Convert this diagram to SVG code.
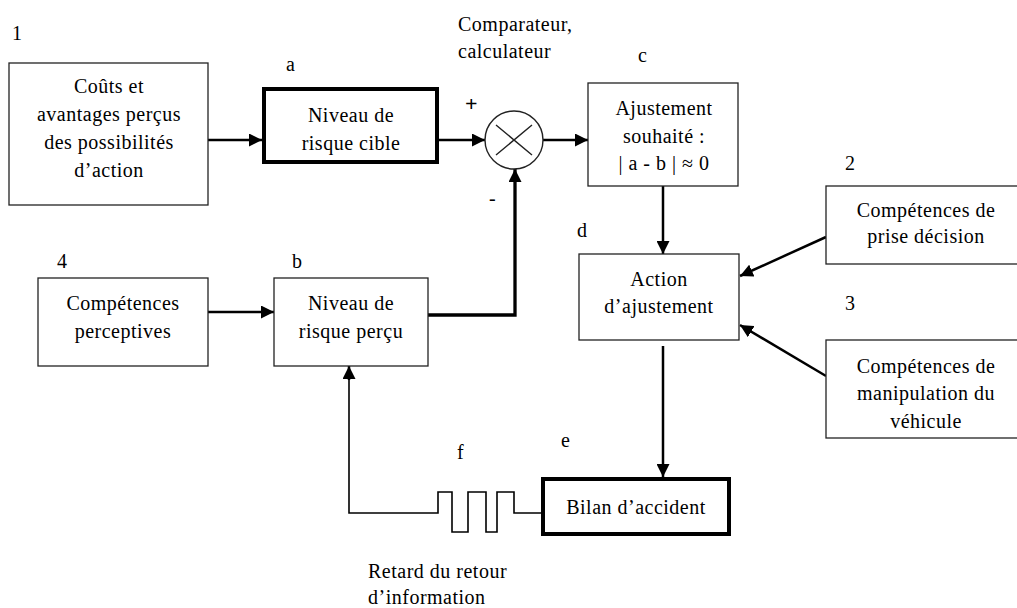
<svg xmlns="http://www.w3.org/2000/svg" width="1017" height="608" viewBox="0 0 1017 608">
<style>
text{font-family:'Liberation Serif','Tinos','Noto Serif','FreeSerif','Nimbus Roman','Times New Roman','Times','DejaVu Serif',serif;font-size:20px;fill:#000;letter-spacing:0.5px}
.c{text-anchor:middle}
.box{fill:#fff;stroke:#222;stroke-width:1.3}
.thick{fill:#fff;stroke:#000;stroke-width:4}
.ln{fill:none;stroke:#000;stroke-width:2.5}
.th{fill:none;stroke:#000;stroke-width:1.6}
</style>
<defs>
<marker id="ah" viewBox="0 0 13 13" refX="13" refY="6.5" markerWidth="13" markerHeight="13" markerUnits="userSpaceOnUse" orient="auto">
<path d="M0,0 L13,6.5 L0,13 z" fill="#000"/>
</marker>
</defs>
<rect width="1017" height="608" fill="#fff"/>

<g id="connectors">
<line class="ln" x1="208" y1="140" x2="262" y2="140" marker-end="url(#ah)"/>
<line class="ln" x1="439" y1="140" x2="485" y2="140" marker-end="url(#ah)"/>
<line class="ln" x1="543" y1="140" x2="588" y2="140" marker-end="url(#ah)"/>
<polyline class="ln" style="stroke-width:3.3" points="428,315 515,315 515,169" marker-end="url(#ah)"/>
<line class="ln" x1="208" y1="312" x2="274" y2="312" marker-end="url(#ah)"/>
<line class="ln" x1="663" y1="186" x2="663" y2="254" marker-end="url(#ah)"/>
<line class="ln" x1="826" y1="237" x2="740" y2="276" marker-end="url(#ah)"/>
<line class="ln" x1="826" y1="376" x2="740" y2="325" marker-end="url(#ah)"/>
<line class="ln" x1="663" y1="346" x2="663" y2="477" marker-end="url(#ah)"/>
<polyline class="th" points="541,513 514,513 514,492 497,492 497,532 486,532 486,492 468,492 468,532 452,532 452,492 438,492 438,513 349,513 349,367"/>
<line class="ln" x1="349" y1="380" x2="349" y2="366" marker-end="url(#ah)"/>
</g>

<g id="node-1">
<rect class="box" x="9" y="63" width="199" height="142"/>
<text class="c" x="109" y="93">Coûts et</text>
<text class="c" x="109" y="121">avantages perçus</text>
<text class="c" x="109" y="149">des possibilités</text>
<text class="c" x="109" y="177">d’action</text>
</g>
<g id="node-a">
<rect class="thick" x="264" y="89" width="173" height="73"/>
<text class="c" x="351" y="122">Niveau de</text>
<text class="c" x="351" y="150">risque cible</text>
</g>
<g id="comparator">
<circle cx="514" cy="140" r="29" fill="#fff" stroke="#222" stroke-width="1.4"/>
<path d="M496,125 L532,155 M532,125 L496,155" stroke="#222" stroke-width="1.4" fill="none"/>
</g>
<g id="node-c">
<rect class="box" x="588" y="83" width="150" height="103"/>
<text class="c" x="664" y="115">Ajustement</text>
<text class="c" x="664" y="143">souhaité :</text>
<text class="c" x="664" y="170">| a - b | ≈ 0</text>
</g>
<g id="node-2">
<rect class="box" x="826" y="186" width="195" height="78"/>
<text class="c" x="926" y="217">Compétences de</text>
<text class="c" x="926" y="243">prise décision</text>
</g>
<g id="node-d">
<rect class="box" x="579" y="254" width="160" height="86"/>
<text class="c" x="659" y="286">Action</text>
<text class="c" x="659" y="313">d’ajustement</text>
</g>
<g id="node-3">
<rect class="box" x="826" y="340" width="195" height="98"/>
<text class="c" x="926" y="373">Compétences de</text>
<text class="c" x="926" y="400">manipulation du</text>
<text class="c" x="926" y="428">véhicule</text>
</g>
<g id="node-4">
<rect class="box" x="38" y="278" width="170" height="88"/>
<text class="c" x="123" y="310">Compétences</text>
<text class="c" x="123" y="338">perceptives</text>
</g>
<g id="node-b">
<rect class="box" x="274" y="278" width="154" height="88"/>
<text class="c" x="351" y="310">Niveau de</text>
<text class="c" x="351" y="338">risque perçu</text>
</g>
<g id="node-e">
<rect class="thick" x="543" y="479" width="186" height="55"/>
<text class="c" x="636" y="514">Bilan d’accident</text>
</g>

<g id="labels">
<text x="12" y="40">1</text>
<text x="286" y="71">a</text>
<text x="458" y="31">Comparateur,</text>
<text x="458" y="58">calculateur</text>
<text x="638" y="62">c</text>
<text x="465" y="111" style="font-weight:bold;font-size:22px">+</text>
<text x="489" y="205">-</text>
<text x="845" y="170">2</text>
<text x="845" y="310">3</text>
<text x="577" y="237">d</text>
<text x="57" y="268">4</text>
<text x="292" y="268">b</text>
<text x="561" y="447">e</text>
<text x="457" y="459">f</text>
<text x="368" y="578">Retard du retour</text>
<text x="368" y="604">d’information</text>
</g>
</svg>
